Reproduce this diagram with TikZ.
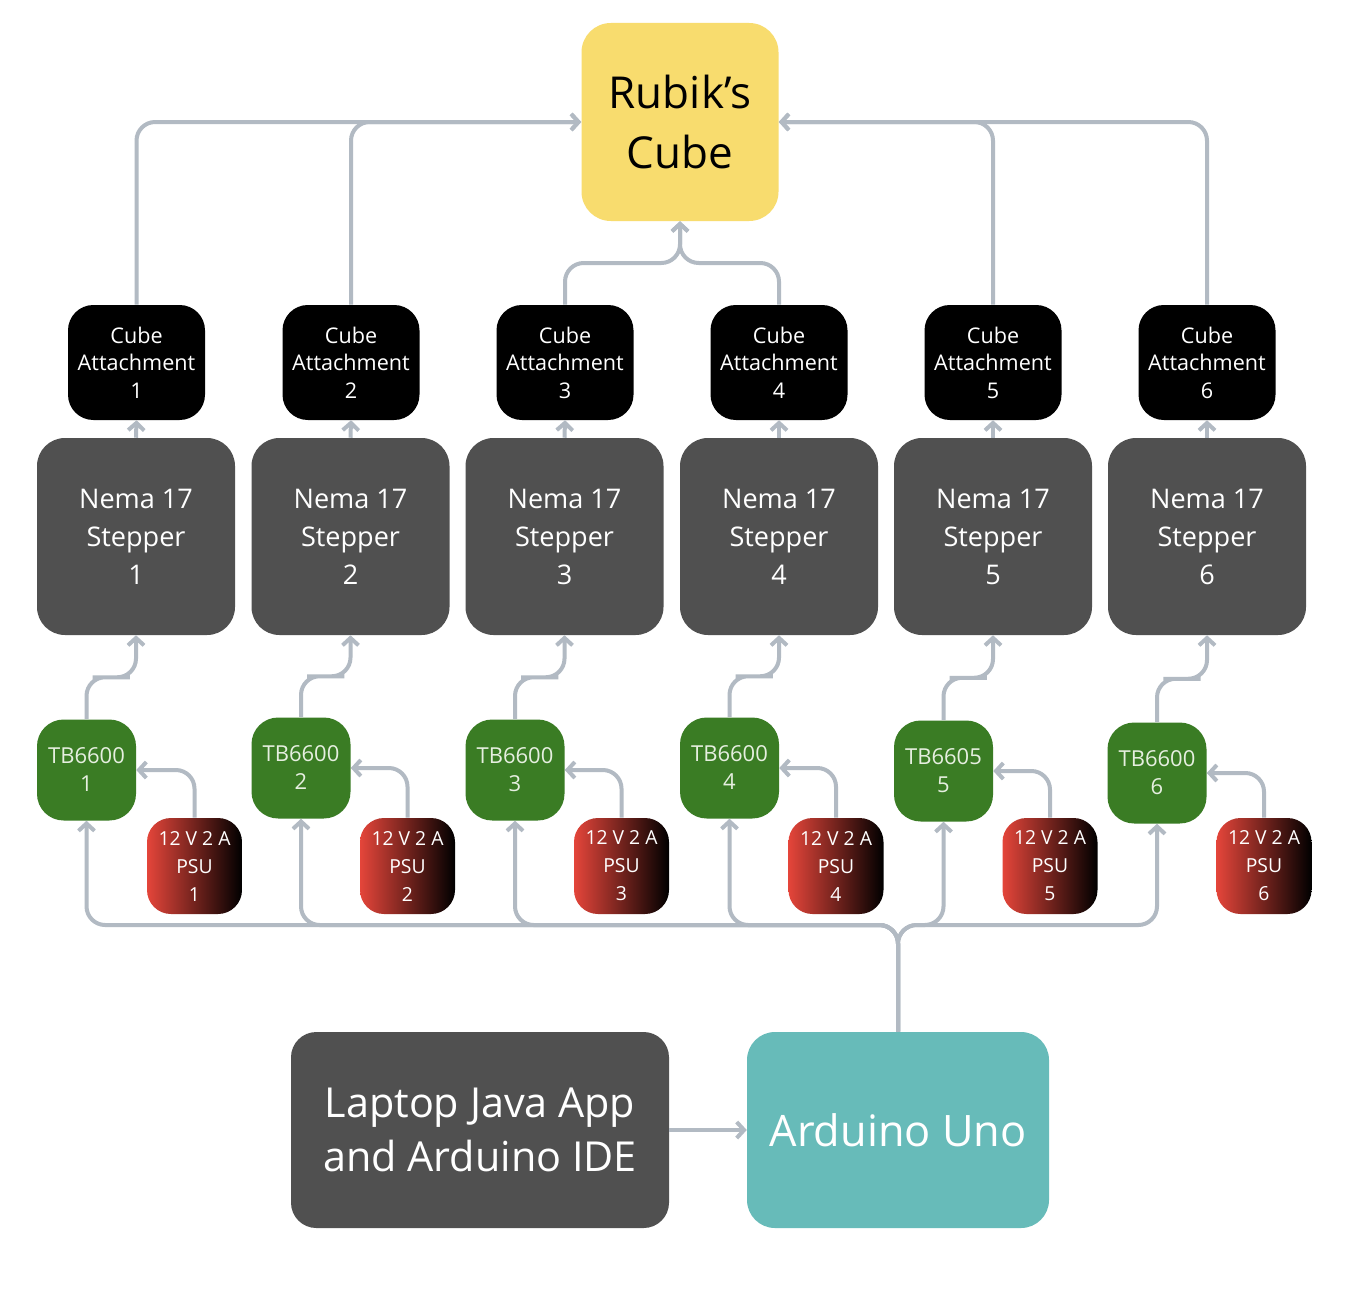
\documentclass[tikz,border=0pt]{standalone}
\usepackage{fontspec}
\setmainfont{Open Sans}
\usetikzlibrary{arrows.meta,calc}
\definecolor{lineC}{HTML}{B2BAC3}
\definecolor{cubeY}{HTML}{F8DC6E}
\definecolor{darkG}{HTML}{505050}
\definecolor{greenC}{HTML}{3A7C24}
\definecolor{tealC}{HTML}{67BBB9}
\definecolor{redC}{HTML}{E4453A}
\definecolor{tbText}{HTML}{E6EFE0}
\begin{document}
\begin{tikzpicture}[x=0.75pt,y=-0.75pt,
  box/.style={rectangle, inner sep=0pt, align=center, text=white},
  rubik/.style={box, fill=cubeY, text=black, minimum width=147.75pt, minimum height=148.5pt, rounded corners=22pt, font=\fontsize{33pt}{45pt}\selectfont},
  attach/.style={box, fill=black, minimum width=102.75pt, minimum height=86.25pt, rounded corners=19pt, font=\fontsize{16.2pt}{20.6pt}\selectfont},
  nema/.style={box, fill=darkG, minimum width=148.5pt, minimum height=147.75pt, rounded corners=21pt, font=\fontsize{20.3pt}{28.5pt}\selectfont},
  driver/.style={box, fill=greenC, text=tbText, minimum width=74.25pt, minimum height=75.75pt, rounded corners=20pt, font=\fontsize{16.5pt}{21pt}\selectfont},
  psu/.style={box, left color=redC, right color=black, minimum width=71.25pt, minimum height=72pt, rounded corners=18pt, font=\fontsize{14.5pt}{21pt}\selectfont},
  laptop/.style={box, fill=darkG, minimum width=283.5pt, minimum height=147pt, rounded corners=19pt, font=\fontsize{31pt}{40pt}\selectfont},
  ardu/.style={box, fill=tealC, minimum width=226.5pt, minimum height=147pt, rounded corners=21pt, font=\fontsize{32.5pt}{40pt}\selectfont},
  conn/.style={draw=lineC, line width=3pt, -{Straight Barb[length=5.5pt,width=12pt]}, rounded corners=14pt}]
\useasboundingbox (0,0) rectangle (1348,1306);
\fill[white] (0,0) rectangle (1348,1306);

\node[rubik] (rub) at (680,122) {Rubik’s\\Cube};

\foreach \i/\ax/\nx in {1/136.5/136, 2/351/350.5, 3/565/564.5, 4/779/779, 5/993/993, 6/1207/1207} {
  \node[attach] (att\i) at (\ax,362.5) {Cube\\Attachment\\\i};
  \node[nema] (nema\i) at (\nx,536.5) {Nema 17\\Stepper\\\i};
}

\node[driver] (tb1) at (86.5,770) {TB6600\\1};
\node[driver] (tb2) at (301,768) {TB6600\\2};
\node[driver] (tb3) at (515,770) {TB6600\\3};
\node[driver] (tb4) at (729.5,768) {TB6600\\4};
\node[driver] (tb5) at (943.5,771) {TB6605\\5};
\node[driver] (tb6) at (1157,773) {TB6600\\6};

\foreach \i/\px in {1/194.5, 2/407.5, 3/621.5, 4/836, 5/1050, 6/1264} {
  \node[psu] (psu\i) at (\px,866) {12 V 2 A\\PSU\\\i};
}

\node[laptop] (lap) at (480,1130) {Laptop Java App\\and Arduino IDE};
\node[ardu] (ard) at (898,1130) {Arduino Uno};

\coordinate (jtop) at (680,263);
\coordinate (bus) at (898,925);

% attachments to cube
\draw[conn] (att1.north) |- (rub.west);
\draw[conn] (att2.north) |- (rub.west);
\draw[conn] (att5.north) |- (rub.east);
\draw[conn] (att6.north) |- (rub.east);
\draw[conn] (att3.north) |- (jtop) -- (rub.south);
\draw[conn] (att4.north) |- (jtop) -- (rub.south);

\foreach \i in {1,...,6} {
  \draw[conn] (nema\i.north) -- (att\i.south);
  \draw[conn] (tb\i.north) |- ($(tb\i.north)!.5!(nema\i.south)$) -| (nema\i.south);
  \draw[conn] (psu\i.north) |- (tb\i.east);
  \draw[conn] (ard.north) -- (bus) -| (tb\i.south);
}

\draw[conn] (lap.east) -- (ard.west);
\end{tikzpicture}
\end{document}
